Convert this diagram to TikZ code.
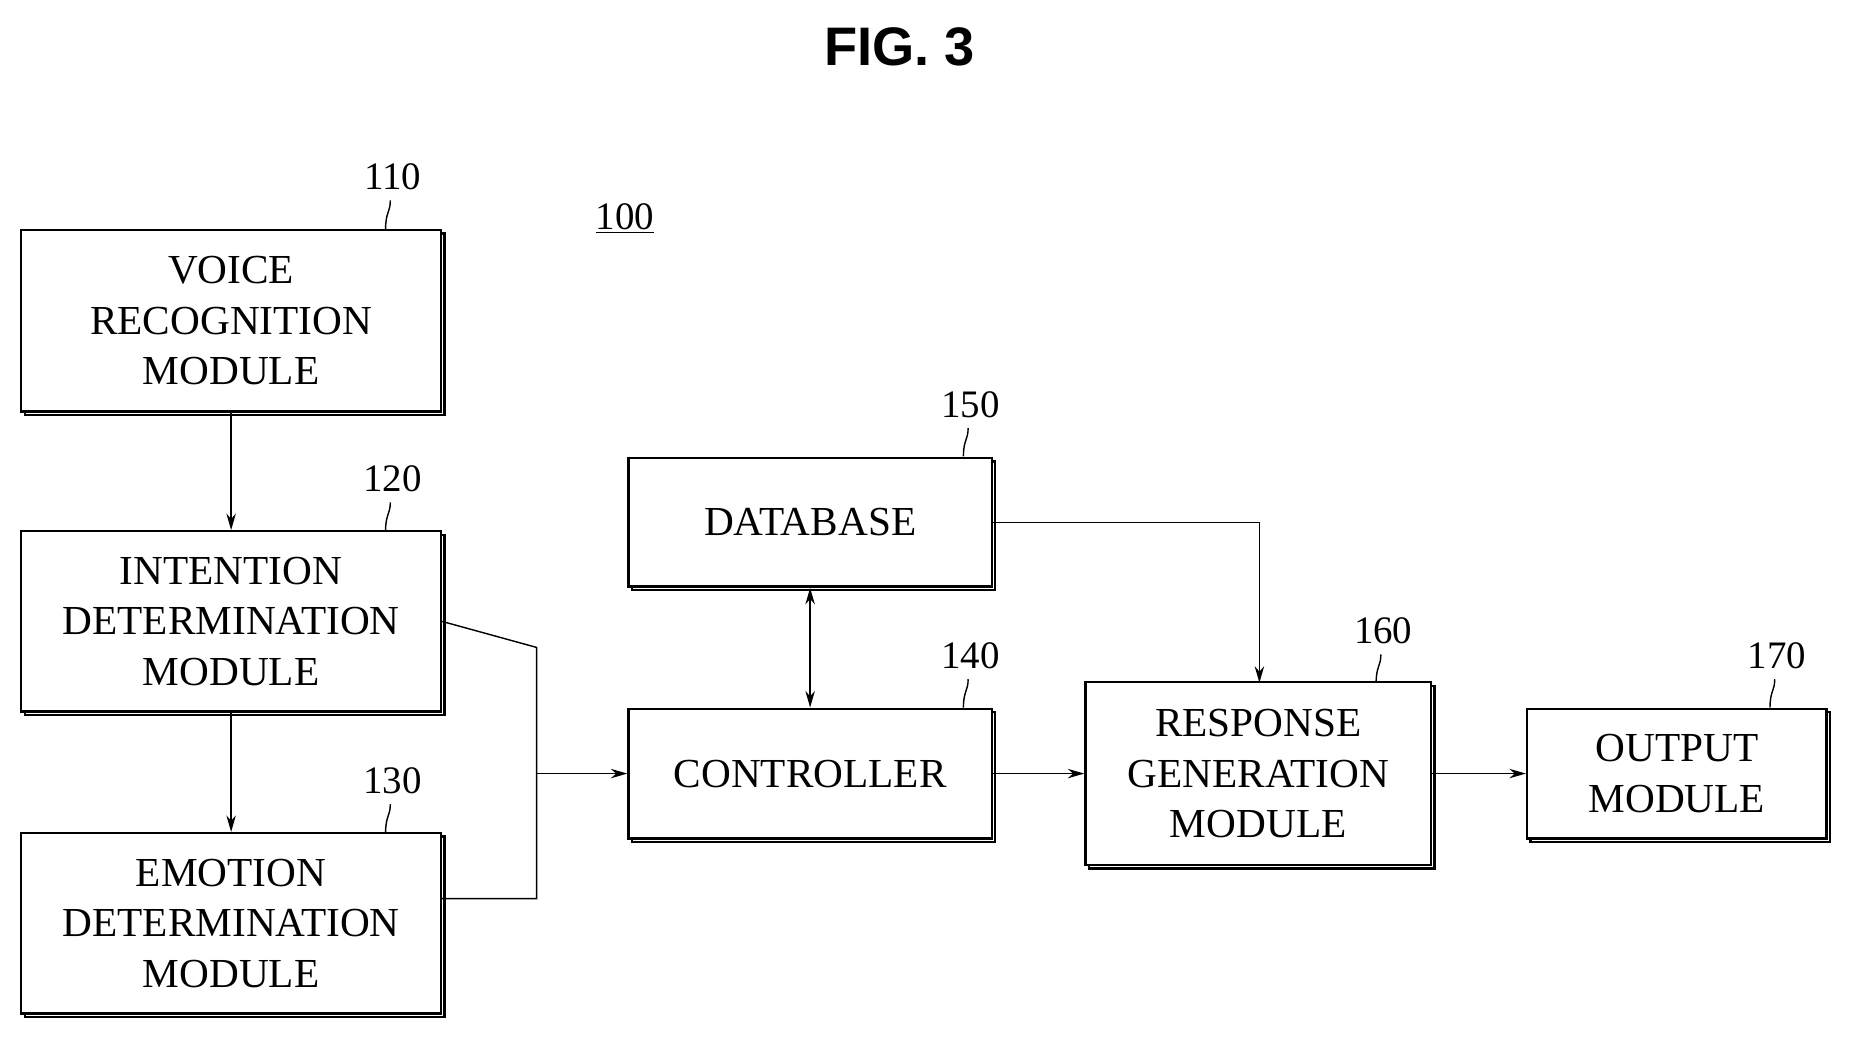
\documentclass[tikz,border=0pt]{standalone}
\usepackage{fontspec}
\setmainfont{Liberation Serif}
\newfontfamily\titlefont{Liberation Sans}
\usetikzlibrary{arrows.meta}
\begin{document}
\begin{tikzpicture}[x=1pt,y=-1pt,
  box/.style={draw,line width=2pt,fill=white,align=center,inner sep=0pt,
    font=\fontsize{35}{43}\selectfont,
    preaction={draw,line width=2pt,transform canvas={shift={(3pt,-3pt)}}}},
  lab/.style={font=\fontsize{33}{36}\selectfont},
  arr/.style={line width=1.2pt,-{Stealth[length=14pt,width=8pt]}},
  ln/.style={line width=1.2pt}]
\useasboundingbox (0,0) rectangle (1568,884);
\node[font=\titlefont\bfseries\fontsize{46}{50}\selectfont] (title) at (763,40) {FIG. 3};
\node[lab] (l100) at (530,185) {\underline{100}};
\node[box,minimum width=356pt,minimum height=154pt] (b110) at (196,272) {VOICE\\RECOGNITION\\MODULE};
\node[box,minimum width=356pt,minimum height=153pt] (b120) at (196,527) {INTENTION\\DETERMINATION\\MODULE};
\node[box,minimum width=356pt,minimum height=153pt] (b130) at (196,783) {EMOTION\\DETERMINATION\\MODULE};
\node[box,minimum width=308pt,minimum height=109pt] (b150) at (687,443) {DATABASE};
\node[box,minimum width=308pt,minimum height=110pt] (b140) at (687,656) {CONTROLLER};
\node[box,minimum width=293pt,minimum height=155pt] (b160) at (1067,656) {RESPONSE\\GENERATION\\MODULE};
\node[box,minimum width=254pt,minimum height=110pt] (b170) at (1422,656) {OUTPUT\\MODULE};
\foreach \n/\x/\y in {110/333/150,120/333/406,130/333/662,150/823/343,140/823/556,160/1173/535,170/1507/556}{
  \node[lab] (l\n) at (\x,\y) {\n};
  \draw[line width=1.2pt] (\x-2,\y+20) .. controls (\x-2,\y+30) and (\x-6,\y+30) .. (\x-6,\y+44);
}
\draw[arr] (b110.south) -- (b120.north);
\draw[arr] (b120.south) -- (b130.north);
\coordinate (j) at (455,656);
\draw[ln] (b120.east) -- (455,549) -- (455,762) -- (b130.east |- 0,762);
\draw[arr] (j) -- (b140.west);
\draw[line width=1.2pt,{Stealth[length=14pt,width=8pt]}-{Stealth[length=14pt,width=8pt]}] (b150.south) -- (b140.north);
\draw[arr] (b150.east) -- (1068,443) -- (1068,579);
\draw[arr] (b140.east) -- (b160.west);
\draw[arr] (b160.east) -- (b170.west);
\end{tikzpicture}
\end{document}
